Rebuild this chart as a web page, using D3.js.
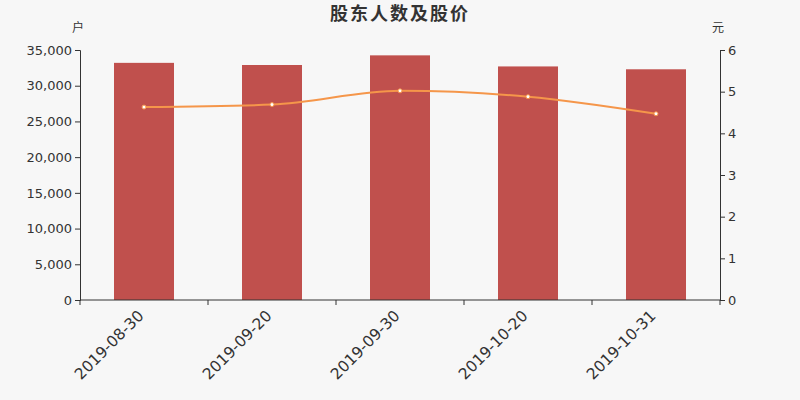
<!DOCTYPE html>
<html>
<head>
<meta charset="utf-8">
<script src="https://cdn.jsdelivr.net/npm/d3@7"></script>
<style>
  body { margin: 0; background: #f7f7f7; }
  svg { font-family: "DejaVu Sans", "Noto Sans CJK SC", sans-serif; }
</style>
</head>
<body>
<script>
const w = 800;
const h = 400;

// data
const dates = ["2019-08-30", "2019-09-20", "2019-09-30", "2019-10-20", "2019-10-31"];
const holders = [33200, 32900, 34250, 32700, 32300];
const prices = [4.63, 4.69, 5.02, 4.88, 4.47];
const leftTicks = [0, 5000, 10000, 15000, 20000, 25000, 30000, 35000];
const rightTicks = [0, 1, 2, 3, 4, 5, 6];

const margin = { top: 50, right: 80, bottom: 100, left: 80 };

const svg = d3
  .select("body")
  .append("svg")
  .attr("width", w)
  .attr("height", h);

svg.append("rect").attr("width", w).attr("height", h).attr("fill", "#f7f7f7");

const x = d3
  .scaleBand()
  .domain(dates)
  .range([margin.left, w - margin.right]);

const yLeft = d3
  .scaleLinear()
  .domain([0, 35000])
  .range([h - margin.bottom, margin.top]);

const yRight = d3
  .scaleLinear()
  .domain([0, 6])
  .range([h - margin.bottom, margin.top]);

// title
svg
  .append("text")
  .attr("x", w / 2)
  .attr("y", 20)
  .attr("text-anchor", "middle")
  .attr("font-size", 18)
  .attr("font-weight", "bold")
  .attr("letter-spacing", 2)
  .attr("fill", "#333")
  .text("股东人数及股价");

// axis units
svg
  .append("text")
  .attr("x", 78)
  .attr("y", 32)
  .attr("text-anchor", "middle")
  .attr("font-size", 12)
  .attr("fill", "#333")
  .text("户");
svg
  .append("text")
  .attr("x", 718)
  .attr("y", 32)
  .attr("text-anchor", "middle")
  .attr("font-size", 12)
  .attr("fill", "#333")
  .text("元");

// bars
const barW = 60;
svg
  .selectAll("rect.bar")
  .data(holders)
  .enter()
  .append("rect")
  .attr("class", "bar")
  .attr("x", (d, i) => x(dates[i]) + x.bandwidth() / 2 - barW / 2)
  .attr("y", (d) => yLeft(d))
  .attr("width", barW)
  .attr("height", (d) => yLeft(0) - yLeft(d))
  .attr("fill", "#c0504d");

// left axis
const gLeft = svg
  .append("g")
  .attr("transform", `translate(${margin.left},0)`)
  .call(d3.axisLeft(yLeft).tickValues(leftTicks).tickSize(5).tickFormat(d3.format(",")));

// right axis
const gRight = svg
  .append("g")
  .attr("transform", `translate(${w - margin.right},0)`)
  .call(d3.axisRight(yRight).tickValues(rightTicks).tickSize(5).tickFormat(d3.format("d")));

// bottom axis, ticks on band edges
const edges = dates.map((d) => x(d)).concat([x.range()[1]]);
const gBottom = svg
  .append("g")
  .attr("transform", `translate(0,${h - margin.bottom})`);
gBottom
  .append("line")
  .attr("x1", x.range()[0])
  .attr("x2", x.range()[1])
  .attr("stroke", "#333");
gBottom
  .selectAll("line.tick")
  .data(edges)
  .enter()
  .append("line")
  .attr("class", "tick")
  .attr("x1", (d) => d)
  .attr("x2", (d) => d)
  .attr("y1", 0)
  .attr("y2", 5)
  .attr("stroke", "#333");
gBottom
  .selectAll("text")
  .data(dates)
  .enter()
  .append("text")
  .attr("transform", (d) => `translate(${x(d) + x.bandwidth() / 2 - 7},9) rotate(-45)`)
  .attr("text-anchor", "end")
  .attr("dy", "0.7em")
  .attr("font-size", 15.5)
  .attr("fill", "#333")
  .text((d) => d);

[gLeft, gRight].forEach((g) => {
  g.select(".domain").attr("stroke", "#333");
  g.selectAll(".tick line").attr("stroke", "#333");
  g.selectAll(".tick text").attr("font-size", 13).attr("fill", "#333");
  g.attr("font-family", null);
});

// price line
const line = d3
  .line()
  .x((d, i) => x(dates[i]) + x.bandwidth() / 2)
  .y((d) => yRight(d))
  .curve(d3.curveMonotoneX);

svg
  .append("path")
  .datum(prices)
  .attr("d", line)
  .attr("fill", "none")
  .attr("stroke", "#f5964a")
  .attr("stroke-width", 2);

svg
  .selectAll("circle.pt")
  .data(prices)
  .enter()
  .append("circle")
  .attr("class", "pt")
  .attr("cx", (d, i) => x(dates[i]) + x.bandwidth() / 2)
  .attr("cy", (d) => yRight(d))
  .attr("r", 2)
  .attr("fill", "#fff")
  .attr("stroke", "#f5964a")
  .attr("stroke-width", 1);
</script>
</body>
</html>
